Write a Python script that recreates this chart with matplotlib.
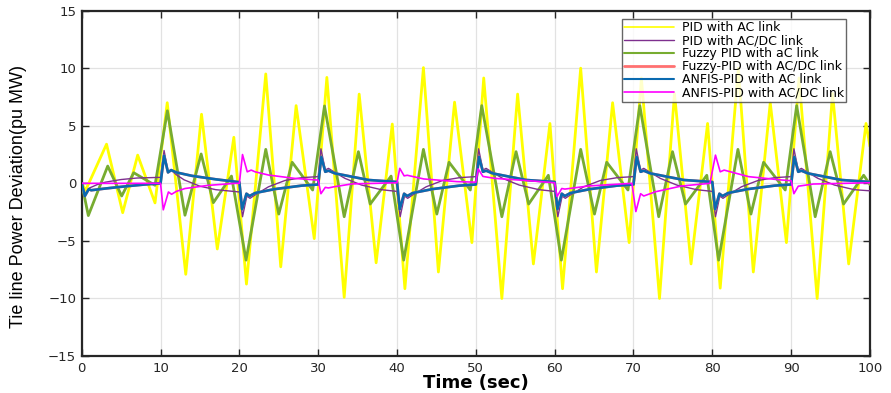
import matplotlib
matplotlib.use("Agg")
import matplotlib.pyplot as plt

# values (time in s, deviation in pu MW)
yellow_t = [0, 0.5, 3.15, 5.2, 7.1, 9.3, 10.85, 13.2, 15.2, 17.2, 19.3,
            20.9, 23.35, 25.25, 27.2, 29.5, 31.1, 33.3, 35.2, 37.35, 39.4,
            41.0, 43.35, 45.25, 47.3, 49.5, 51.0, 53.3, 55.3, 57.3, 59.4,
            61.0, 63.3, 65.3, 67.35, 69.45, 71.0, 73.3, 75.2, 77.3, 79.4,
            81.0, 83.3, 85.2, 87.35, 89.4, 91.0, 93.3, 95.25, 97.3, 99.5, 100]
yellow_v = [0, -0.6, 3.4, -2.55, 2.45, -1.7, 7.0, -7.9, 6.0, -5.7, 4.0,
            -8.75, 9.5, -7.25, 6.75, -4.8, 9.2, -9.9, 7.75, -6.9, 5.15,
            -9.15, 10.05, -7.7, 7.05, -5.15, 9.15, -10.0, 7.75, -7.0, 5.2,
            -9.15, 10.0, -7.7, 7.0, -5.15, 9.15, -10.0, 7.8, -7.0, 5.2,
            -9.1, 10.0, -7.7, 7.0, -5.15, 9.15, -10.0, 7.8, -7.0, 5.2, 3.2]

green_t = [0, 0.84, 3.3, 5.07, 6.6, 9.3, 10.87, 13.1, 15.15, 16.7, 19.0,
           20.85, 23.35, 25.0, 26.7, 29.3, 30.8, 33.3, 35.1, 36.6, 39.25,
           40.85, 43.35, 45.05, 46.6, 49.3, 50.75, 53.3, 55.1, 56.7, 59.2,
           60.85, 63.3, 65.05, 66.6, 69.3, 70.8, 73.2, 74.95, 76.6, 79.3,
           80.8, 83.25, 84.9, 86.5, 89.25, 90.7, 93.05, 94.95, 96.65, 99.2, 100]
green_v = [0, -2.8, 1.5, -1.1, 0.92, -0.17, 6.3, -2.77, 2.55, -1.68, 0.63,
           -6.67, 2.95, -2.67, 1.83, -0.58, 6.72, -2.9, 2.75, -1.8, 0.63,
           -6.67, 2.95, -2.67, 1.83, -0.58, 6.75, -2.9, 2.75, -1.8, 0.7,
           -6.67, 2.95, -2.67, 1.83, -0.58, 6.75, -2.9, 2.75, -1.8, 0.7,
           -6.67, 2.95, -2.67, 1.83, -0.58, 6.75, -2.9, 2.75, -1.8, 0.7, -0.1]

purple_t = [0, 0.4, 1.0, 2, 3, 5, 7, 10,
            10.45, 10.95, 11.35, 12, 13, 15, 17, 20,
            20.4, 20.95, 21.35, 22, 23.7, 25.8, 28, 30,
            30.35, 30.9, 31.3, 32, 33.4, 35.5, 38, 40,
            40.4, 40.95, 41.35, 42, 43.7, 45.8, 48, 50,
            50.35, 50.9, 51.3, 52, 53.4, 55.5, 58, 60,
            60.4, 60.95, 61.35, 62, 63.7, 65.8, 68, 70,
            70.35, 70.9, 71.3, 72, 73.4, 75.5, 78, 80,
            80.4, 80.95, 81.35, 82, 83.7, 85.8, 88, 90,
            90.35, 90.9, 91.3, 92, 93.4, 95.5, 98, 100]
purple_v = [0, -0.9, -0.4, -0.1, 0.1, 0.33, 0.46, 0.52,
            2.85, 1.0, 1.15, 0.75, 0.3, -0.25, -0.55, -0.75,
            -2.9, -1.1, -1.3, -1.0, -0.3, 0.25, 0.5, 0.58,
            3.0, 1.15, 1.3, 1.0, 0.43, -0.15, -0.55, -0.7,
            -2.9, -1.1, -1.3, -1.0, -0.3, 0.25, 0.5, 0.58,
            3.0, 1.15, 1.3, 1.0, 0.43, -0.15, -0.55, -0.7,
            -2.9, -1.1, -1.3, -1.0, -0.3, 0.25, 0.5, 0.58,
            3.0, 1.15, 1.3, 1.0, 0.43, -0.15, -0.55, -0.7,
            -2.9, -1.1, -1.3, -1.0, -0.3, 0.25, 0.5, 0.58,
            3.0, 1.15, 1.3, 1.0, 0.43, -0.15, -0.55, -0.65]

blue_t = [0, 0.4, 0.9, 1.2, 3, 5, 8, 10,
          10.45, 10.95, 11.35, 12, 14, 17, 20,
          20.35, 20.9, 21.3, 22, 24.5, 27.9, 30,
          30.4, 30.9, 31.3, 32.1, 36.4, 40,
          40.35, 40.9, 41.3, 42, 44.5, 47.9, 50,
          50.4, 50.9, 51.3, 52.1, 56.4, 60,
          60.35, 60.9, 61.3, 62, 64.5, 67.9, 70,
          70.4, 70.9, 71.3, 72.1, 76.4, 80,
          80.35, 80.9, 81.3, 82, 84.5, 87.9, 90,
          90.4, 90.9, 91.3, 92.1, 96.4, 100]
blue_v = [0, -1.1, -0.5, -0.6, -0.45, -0.3, -0.1, 0,
          2.4, 0.95, 1.15, 0.95, 0.65, 0.35, 0.1,
          -2.25, -0.9, -1.1, -0.84, -0.5, -0.2, -0.1,
          2.3, 1.0, 1.1, 0.87, 0.29, 0.12,
          -2.25, -0.9, -1.1, -0.84, -0.5, -0.2, -0.1,
          2.3, 1.0, 1.1, 0.87, 0.29, 0.12,
          -2.25, -0.9, -1.1, -0.84, -0.5, -0.2, -0.1,
          2.3, 1.0, 1.1, 0.87, 0.29, 0.12,
          -2.25, -0.9, -1.1, -0.84, -0.5, -0.2, -0.1,
          2.3, 1.0, 1.1, 0.87, 0.29, 0.12]

# red trace sits underneath the blue one in the reference
red_t = blue_t
red_v = blue_v

magenta_t = [0, 10, 10.35, 11.0, 11.4, 12, 13.1, 16, 19.5,
             20, 20.4, 21.0, 21.5, 22, 23.7, 27, 30,
             30.35, 30.9, 31.3, 32, 34.3, 40,
             40.35, 40.9, 41.3, 43.4, 47.6, 50,
             50.3, 50.9, 52.4, 56.7, 60,
             60.3, 60.9, 61.3, 64.3, 69.8,
             70.3, 70.9, 71.3, 72.8, 76.1, 79.7,
             80.4, 81.0, 81.5, 84.6, 88.8, 90,
             90.35, 90.9, 92.8, 100]
magenta_v = [0, 0, -2.3, -0.75, -0.95, -0.7, -0.45, -0.18, 0,
             0, 2.5, 1.0, 1.15, 1.0, 0.72, 0.43, 0.28,
             -0.9, -0.35, -0.4, -0.3, -0.05, 0.05,
             1.3, 0.65, 0.7, 0.38, 0.15, 0.1,
             1.25, 0.6, 0.43, 0.23, 0.05,
             -1.15, -0.45, -0.5, -0.23, 0,
             -2.45, -0.9, -1.1, -0.73, -0.23, 0,
             2.45, 1.0, 1.15, 0.58, 0.29, 0.23,
             -0.9, -0.25, -0.06, 0.05]

labels = ["PID with AC link", "PID with AC/DC link", "Fuzzy PID with aC link",
          "Fuzzy-PID with AC/DC link", "ANFIS-PID with AC link",
          "ANFIS-PID with AC/DC link"]

fig = plt.figure(figsize=(8.91, 3.93), dpi=100)
ax = fig.add_axes([0.0917, 0.094, 0.8847, 0.879])

kw = dict(solid_joinstyle="round", solid_capstyle="round")
l_y, = ax.plot(yellow_t, yellow_v, color="#FFFF00", lw=2.0, zorder=2, **kw)
l_p, = ax.plot(purple_t, purple_v, color="#7E2F8E", lw=1.0, zorder=4, **kw)
l_g, = ax.plot(green_t, green_v, color="#77AC30", lw=2.0, zorder=3, **kw)
l_r, = ax.plot(red_t, red_v, color="#FF7070", lw=1.9, zorder=4.5, **kw)
l_b, = ax.plot(blue_t, blue_v, color="#0A6AB0", lw=1.9, zorder=5, **kw)
l_m, = ax.plot(magenta_t, magenta_v, color="#FF00FF", lw=1.2, zorder=6, **kw)

ax.set_xlim(0, 100)
ax.set_ylim(-15, 15)
ax.set_xticks(range(0, 101, 10))
ax.set_yticks(range(-15, 16, 5))
ax.grid(True, color="#E2E2E2", lw=0.9)
ax.set_axisbelow(True)
ax.tick_params(direction="in", top=True, right=True, length=5, width=1,
               labelsize=9.5, colors="#262626", pad=4)
for s in ax.spines.values():
    s.set_linewidth(1.6)
    s.set_color("#262626")

ax.set_xlabel("Time (sec)", fontsize=13, fontweight="bold")
ax.xaxis.label.set_va("center")
ax.xaxis.set_label_coords(0.5, -0.078)
ax.set_ylabel("Tie line Power Deviation(pu MW)", fontsize=13,
              family=["Liberation Sans", "DejaVu Sans"])
ax.yaxis.set_label_coords(-0.069, 0.463)

leg = ax.legend([l_y, l_p, l_g, l_r, l_b, l_m], labels, loc="upper right",
                bbox_to_anchor=(0.97, 0.976), fontsize=9, frameon=True,
                fancybox=False, edgecolor="#404040", labelspacing=0.0,
                borderpad=0.2, handlelength=4.0, handletextpad=0.6,
                borderaxespad=0)
leg.get_frame().set_linewidth(1.0)
for ln, w in zip(leg.get_lines(), [1.2, 1.0, 1.5, 2.0, 1.5, 1.2]):
    ln.set_linewidth(w)

fig.savefig("out.png", dpi=100)
